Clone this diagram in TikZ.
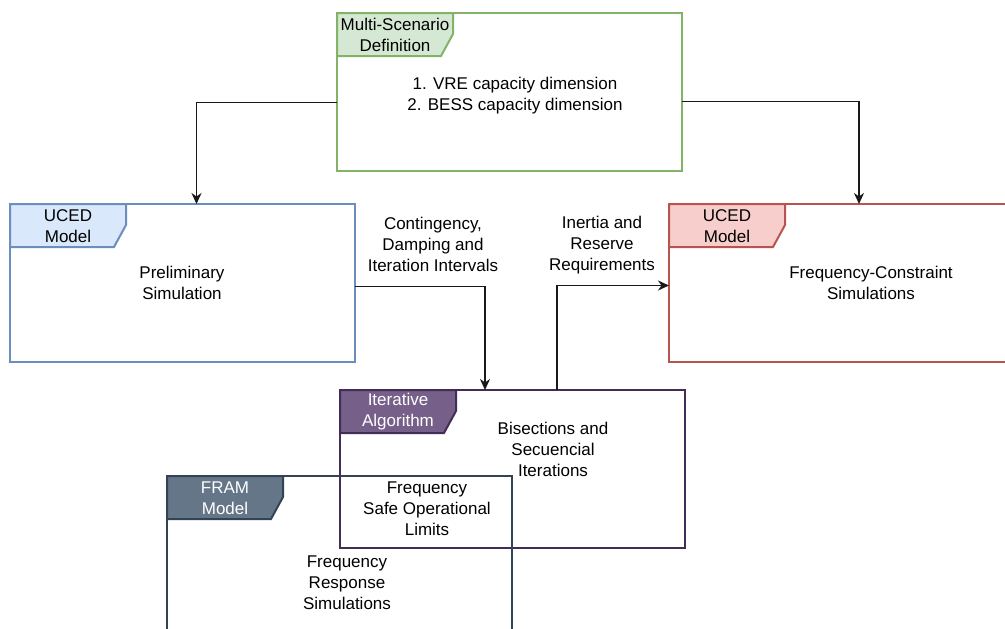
\documentclass[tikz,border=0pt]{standalone}
\usepackage{fontspec}
\setmainfont{Liberation Sans}
\usetikzlibrary{arrows.meta,positioning,calc}
\definecolor{greenline}{HTML}{82B366}
\definecolor{greenback}{HTML}{D5E8D4}
\definecolor{blueline}{HTML}{6C8EBF}
\definecolor{blueback}{HTML}{DAE8FC}
\definecolor{redline}{HTML}{B85450}
\definecolor{redback}{HTML}{F8CECC}
\definecolor{purpleline}{HTML}{432D57}
\definecolor{purpleback}{HTML}{76608A}
\definecolor{slateline}{HTML}{314354}
\definecolor{slateback}{HTML}{647687}

\begin{document}
\begin{tikzpicture}[
  x=1pt,y=-1pt,
  font=\fontsize{17}{21}\selectfont,
  box/.style={line width=2pt,minimum width=345pt,minimum height=158pt,outer sep=0pt,anchor=north west},
  tab/.style={line width=2pt},
  txt/.style={align=center,inner sep=0pt},
  arr/.style={-{Stealth[length=11pt,width=10pt,inset=3.5pt]},line width=1.4pt,draw=black!90}
]
\useasboundingbox (0,0) rectangle (1005,629);
\clip (0,0) rectangle (1005,629);
% boxes
\node[box,draw=greenline] (ms) at (337,13) {};
\node[box,draw=blueline] (pre) at (10,204) {};
\node[box,draw=redline,right=314pt of pre] (fcs) {};
\node[box,draw=purpleline] (ita) at (340,390) {};
\node[box,draw=slateline] (fram) at (167,476) {};
% corner tabs
\foreach \b/\dc/\fc/\tc/\lbl in {ms/greenline/greenback/black/{Multi-Scenario\\Definition},
    pre/blueline/blueback/black/{UCED\\Model},
    fcs/redline/redback/black/{UCED\\Model},
    ita/purpleline/purpleback/white/{Iterative\\Algorithm},
    fram/slateline/slateback/white/{FRAM\\Model}}{
  \filldraw[tab,draw=\dc,fill=\fc] (\b.north west) -- ++(116,0) -- ++(0,21) -- ++(-12,22) -- ++(-104,0) -- cycle;
  \node[txt,text=\tc] (\b-tab) at ($(\b.north west)+(58,22)$) {\lbl};
}
% box texts
\node[txt] (ms-txt) at (515,96) {1. VRE capacity dimension\\2. BESS capacity dimension};
\node[txt] (pre-txt) at (182,283) {Preliminary\\Simulation};
\node[txt] (fcs-txt) at (871,283) {Frequency-Constraint\\Simulations};
\node[txt] (ita-txt) at (553,449) {Bisections and\\Secuencial\\Iterations};
\node[txt] (sol-txt) at (427,509) {Frequency\\Safe Operational\\Limits};
\node[txt] (fram-txt) at (347,583) {Frequency\\Response\\Simulations};
% connectors
\draw[arr] ([yshift=-10.5pt]ms.west) -| ([xshift=14pt]pre.north);
\draw[arr] ([yshift=-9.5pt]ms.east) -| ([xshift=17.5pt]fcs.north);
\draw[arr] ([yshift=-3.5pt]pre.east) -| ([xshift=-27.5pt]ita.north);
\draw[arr] ([xshift=44.5pt]ita.north) |- ([yshift=-2.5pt]fcs.west);
\node[txt] (cdi) at (433,244) {Contingency,\\Damping and\\Iteration Intervals};
\node[txt] (irr) at (602,245) {Inertia and\\Reserve\\Requirements};
\end{tikzpicture}
\end{document}
